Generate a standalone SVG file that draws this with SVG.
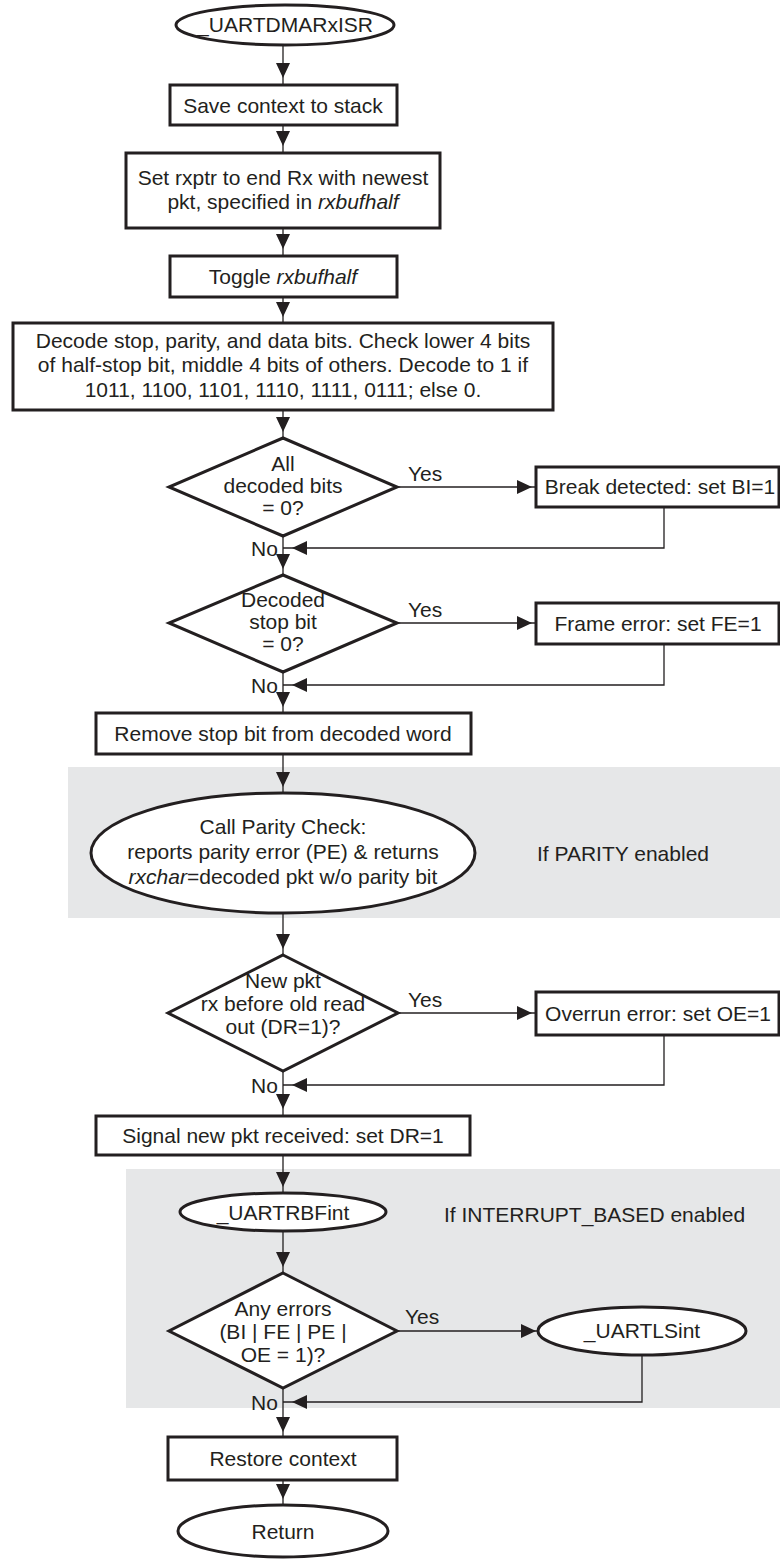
<svg xmlns="http://www.w3.org/2000/svg" xmlns:xlink="http://www.w3.org/1999/xlink" width="780" height="1560" viewBox="0 0 780 1560">
  <style>
    .shape { fill: #ffffff; stroke: #231f20; stroke-width: 3; }
    .band { fill: #e6e7e8; stroke: none; }
    .wire { fill: none; stroke: #231f20; stroke-width: 1.3; }
    .head { fill: #231f20; stroke: none; }
    text { font-family: "Liberation Sans", Arial, sans-serif; font-size: 21px; fill: #231f20; }
    .c { text-anchor: middle; }
    .i { font-style: italic; }
  </style>
  <defs>
    <!-- arrowhead pointing along +x, tip at origin -->
    <path id="ah" d="M0,0 L-15,-7 L-15,7 Z"/>
  </defs>

  <rect width="780" height="1560" fill="#ffffff"/>

  <!-- shaded option regions -->
  <rect class="band" x="68" y="767" width="712" height="151"/>
  <rect class="band" x="126" y="1169" width="654" height="239"/>

  <!-- connectors -->
  <g id="connectors">
    <line class="wire" x1="283" y1="45" x2="283" y2="85"/>
    <line class="wire" x1="283" y1="125" x2="283" y2="153"/>
    <line class="wire" x1="283" y1="228" x2="283" y2="256"/>
    <line class="wire" x1="283" y1="297" x2="283" y2="323"/>
    <line class="wire" x1="283" y1="410" x2="283" y2="438"/>
    <line class="wire" x1="397" y1="487" x2="536" y2="487"/>
    <polyline class="wire" points="664,507 664,548 283,548"/>
    <line class="wire" x1="283" y1="536" x2="283" y2="575"/>
    <line class="wire" x1="397" y1="623" x2="536" y2="623"/>
    <polyline class="wire" points="664,644 664,685 283,685"/>
    <line class="wire" x1="283" y1="672" x2="283" y2="713"/>
    <line class="wire" x1="283" y1="754" x2="283" y2="793"/>
    <line class="wire" x1="283" y1="913" x2="283" y2="955"/>
    <line class="wire" x1="398" y1="1013" x2="536" y2="1013"/>
    <polyline class="wire" points="664,1035 664,1085 283,1085"/>
    <line class="wire" x1="283" y1="1071" x2="283" y2="1116"/>
    <line class="wire" x1="283" y1="1155" x2="283" y2="1193"/>
    <line class="wire" x1="283" y1="1231" x2="283" y2="1273"/>
    <line class="wire" x1="397" y1="1331" x2="538" y2="1331"/>
    <polyline class="wire" points="642,1355 642,1402 283,1402"/>
    <line class="wire" x1="283" y1="1388" x2="283" y2="1437"/>
    <line class="wire" x1="283" y1="1480" x2="283" y2="1505"/>

    <!-- arrowheads -->
    <use xlink:href="#ah" class="head" transform="translate(283,78) rotate(90)"/>
    <use xlink:href="#ah" class="head" transform="translate(283,146) rotate(90)"/>
    <use xlink:href="#ah" class="head" transform="translate(283,249) rotate(90)"/>
    <use xlink:href="#ah" class="head" transform="translate(283,317) rotate(90)"/>
    <use xlink:href="#ah" class="head" transform="translate(283,432) rotate(90)"/>
    <use xlink:href="#ah" class="head" transform="translate(532,487)"/>
    <use xlink:href="#ah" class="head" transform="translate(292,548) rotate(180)"/>
    <use xlink:href="#ah" class="head" transform="translate(283,569) rotate(90)"/>
    <use xlink:href="#ah" class="head" transform="translate(532,623)"/>
    <use xlink:href="#ah" class="head" transform="translate(292,685) rotate(180)"/>
    <use xlink:href="#ah" class="head" transform="translate(283,707) rotate(90)"/>
    <use xlink:href="#ah" class="head" transform="translate(283,787) rotate(90)"/>
    <use xlink:href="#ah" class="head" transform="translate(283,949) rotate(90)"/>
    <use xlink:href="#ah" class="head" transform="translate(532,1013)"/>
    <use xlink:href="#ah" class="head" transform="translate(292,1085) rotate(180)"/>
    <use xlink:href="#ah" class="head" transform="translate(283,1109) rotate(90)"/>
    <use xlink:href="#ah" class="head" transform="translate(283,1187) rotate(90)"/>
    <use xlink:href="#ah" class="head" transform="translate(283,1267) rotate(90)"/>
    <use xlink:href="#ah" class="head" transform="translate(536,1331)"/>
    <use xlink:href="#ah" class="head" transform="translate(292,1402) rotate(180)"/>
    <use xlink:href="#ah" class="head" transform="translate(283,1432) rotate(90)"/>
    <use xlink:href="#ah" class="head" transform="translate(283,1499) rotate(90)"/>

    <text x="408" y="481">Yes</text>
    <text x="251" y="556">No</text>
    <text x="408" y="617">Yes</text>
    <text x="251" y="693">No</text>
    <text x="408" y="1007">Yes</text>
    <text x="251" y="1093">No</text>
    <text x="405" y="1324">Yes</text>
    <text x="251" y="1410">No</text>
  </g>

  <g id="start">
    <ellipse class="shape" cx="285" cy="25" rx="109" ry="20"/>
    <text class="c" x="285" y="32">_UARTDMARxISR</text>
  </g>

  <g id="save-context">
    <rect class="shape" x="170" y="85" width="227" height="40"/>
    <text class="c" x="283" y="113">Save context to stack</text>
  </g>

  <g id="set-rxptr">
    <rect class="shape" x="126" y="153" width="314" height="75"/>
    <text class="c" x="283" y="185">Set rxptr to end Rx with newest</text>
    <text class="c" x="283" y="209">pkt, specified in <tspan class="i">rxbufhalf</tspan></text>
  </g>

  <g id="toggle">
    <rect class="shape" x="170" y="256" width="227" height="41"/>
    <text class="c" x="283" y="284">Toggle <tspan class="i">rxbufhalf</tspan></text>
  </g>

  <g id="decode">
    <rect class="shape" x="13" y="323" width="540" height="87"/>
    <text class="c" x="283" y="348">Decode stop, parity, and data bits. Check lower 4 bits</text>
    <text class="c" x="283" y="372">of half-stop bit, middle 4 bits of others. Decode to 1 if</text>
    <text class="c" x="283" y="397">1011, 1100, 1101, 1110, 1111, 0111; else 0.</text>
  </g>

  <g id="all-zero">
    <polygon class="shape" points="283,438 397,487 283,536 169,487"/>
    <text class="c" x="283" y="471">All</text>
    <text class="c" x="283" y="493">decoded bits</text>
    <text class="c" x="283" y="515">= 0?</text>
  </g>

  <g id="break-detected">
    <rect class="shape" x="536" y="467" width="243" height="40"/>
    <text class="c" x="660" y="494">Break detected: set BI=1</text>
  </g>

  <g id="stop-zero">
    <polygon class="shape" points="283,575 397,623 283,672 169,623"/>
    <text class="c" x="283" y="607">Decoded</text>
    <text class="c" x="283" y="629">stop bit</text>
    <text class="c" x="283" y="651">= 0?</text>
  </g>

  <g id="frame-error">
    <rect class="shape" x="536" y="603" width="243" height="41"/>
    <text class="c" x="658" y="631">Frame error: set FE=1</text>
  </g>

  <g id="remove-stop">
    <rect class="shape" x="96" y="713" width="375" height="41"/>
    <text class="c" x="283" y="741">Remove stop bit from decoded word</text>
  </g>

  <g id="parity-check">
    <ellipse class="shape" cx="283" cy="853" rx="192" ry="60"/>
    <text class="c" x="283" y="834">Call Parity Check:</text>
    <text class="c" x="283" y="859">reports parity error (PE) &amp; returns</text>
    <text class="c" x="283" y="884"><tspan class="i">rxchar</tspan>=decoded pkt w/o parity bit</text>
    <text x="537" y="861">If PARITY enabled</text>
  </g>

  <g id="overrun-check">
    <polygon class="shape" points="283,955 398,1013 283,1071 168,1013"/>
    <text class="c" x="283" y="988">New pkt</text>
    <text class="c" x="283" y="1011">rx before old read</text>
    <text class="c" x="283" y="1034">out (DR=1)?</text>
  </g>

  <g id="overrun-error">
    <rect class="shape" x="536" y="992" width="243" height="43"/>
    <text class="c" x="658" y="1021">Overrun error: set OE=1</text>
  </g>

  <g id="signal-new">
    <rect class="shape" x="96" y="1116" width="374" height="39"/>
    <text class="c" x="283" y="1143">Signal new pkt received: set DR=1</text>
  </g>

  <g id="rbf-int">
    <ellipse class="shape" cx="283" cy="1212" rx="103" ry="19"/>
    <text class="c" x="283" y="1220">_UARTRBFint</text>
    <text x="444" y="1222">If INTERRUPT_BASED enabled</text>
  </g>

  <g id="any-errors">
    <polygon class="shape" points="283,1273 397,1331 283,1388 169,1331"/>
    <text class="c" x="283" y="1316">Any errors</text>
    <text class="c" x="283" y="1339">(BI | FE | PE |</text>
    <text class="c" x="283" y="1362">OE = 1)?</text>
  </g>

  <g id="ls-int">
    <ellipse class="shape" cx="642" cy="1331" rx="104" ry="24"/>
    <text class="c" x="642" y="1338">_UARTLSint</text>
  </g>

  <g id="restore">
    <rect class="shape" x="168" y="1437" width="229" height="43"/>
    <text class="c" x="283" y="1466">Restore context</text>
  </g>

  <g id="return">
    <ellipse class="shape" cx="283" cy="1531" rx="105" ry="26"/>
    <text class="c" x="283" y="1539">Return</text>
  </g>
</svg>
